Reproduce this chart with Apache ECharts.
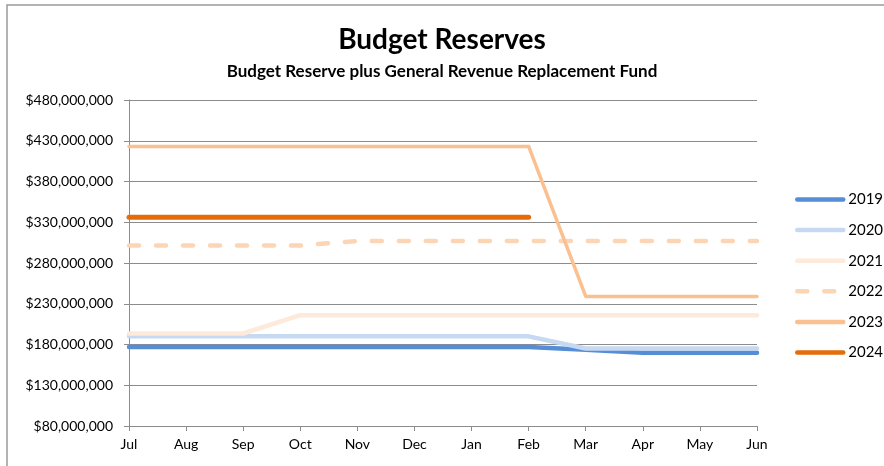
<!DOCTYPE html>
<html>
<head>
<meta charset="utf-8">
<script src="https://cdn.jsdelivr.net/npm/echarts@6/dist/echarts.min.js"></script>
<style>
  html, body { margin: 0; padding: 0; background: #fff; }
  #chart { width: 884px; height: 466px; }
</style>
</head>
<body>
<div id="chart"></div>
<script>
// months of the fiscal year
var months = ['Jul', 'Aug', 'Sep', 'Oct', 'Nov', 'Dec', 'Jan', 'Feb', 'Mar', 'Apr', 'May', 'Jun'];

// balances by year
var y2019 = [177e6, 177e6, 177e6, 177e6, 177e6, 177e6, 177e6, 177e6, 173.5e6, 170e6, 170e6, 170e6];
var y2020 = [190e6, 190e6, 190e6, 190e6, 190e6, 190e6, 190e6, 190e6, 175e6, 175e6, 175e6, 175e6];
var y2021 = [193.5e6, 193.5e6, 193.5e6, 216e6, 216e6, 216e6, 216e6, 216e6, 216e6, 216e6, 216e6, 216e6];
var y2022 = [301.5e6, 301.5e6, 301.5e6, 301.5e6, 307e6, 307e6, 307e6, 307e6, 307e6, 307e6, 307e6, 307e6];
var y2023 = [423e6, 423e6, 423e6, 423e6, 423e6, 423e6, 423e6, 423e6, 239e6, 239e6, 239e6, 239e6];
var y2024 = [336e6, 336e6, 336e6, 336e6, 336e6, 336e6, 336e6, 336e6, null, null, null, null];

var yMin = 80e6, yMax = 480e6, yStep = 50e6;

var myChart = echarts.init(document.getElementById('chart'));

var font = 'Lato, "Open Sans", sans-serif';

function money(v) {
	return '$' + Math.round(v).toString().replace(/\B(?=(\d{3})+(?!\d))/g, ',');
}

function line(name, data, color, width, dash) {
	return {
		name: name,
		type: 'line',
		data: data,
		symbol: 'none',
		connectNulls: false,
		lineStyle: {
			color: color,
			width: width,
			type: dash || 'solid',
			cap: 'round',
			join: 'round'
		},
		itemStyle: { color: color },
		emphasis: { disabled: true }
	};
}

var option = {
	backgroundColor: '#fff',
	animation: false,
	textStyle: { fontFamily: font },
	graphic: [{
		type: 'rect',
		shape: { x: 7, y: 5, width: 900, height: 500 },
		style: { fill: 'none', stroke: '#9a9a9a', lineWidth: 1.5 },
		silent: true
	}],
	title: [{
		text: 'Budget Reserves',
		left: 'center',
		top: 21,
		textStyle: { fontSize: 28, fontWeight: 'bold', color: '#000', fontFamily: font }
	}, {
		text: 'Budget Reserve plus General Revenue Replacement Fund',
		left: 'center',
		top: 58,
		textStyle: { fontSize: 17, fontWeight: 'bold', color: '#000', fontFamily: font }
	}],
	legend: {
		orient: 'vertical',
		left: 790,
		top: 187,
		padding: 5,
		itemWidth: 46,
		itemHeight: 14,
		itemGap: 15.6,
		itemStyle: { opacity: 0 },
		lineStyle: { width: 4.5, cap: 'round' },
		textStyle: { fontSize: 15, color: '#000', fontFamily: font },
		selectedMode: false,
		data: ['2019', '2020', '2021', '2022', '2023', '2024']
	},
	grid: {
		left: 129,
		right: 127,
		top: 100,
		bottom: 40
	},
	xAxis: {
		type: 'category',
		boundaryGap: false,
		data: months,
		axisLine: { lineStyle: { color: '#8c8c8c', width: 1 } },
		axisTick: { show: true, length: 5, lineStyle: { color: '#8c8c8c' } },
		axisLabel: { color: '#000', fontSize: 14, margin: 11, fontFamily: font },
		splitLine: { show: false }
	},
	yAxis: {
		type: 'value',
		min: yMin,
		max: yMax,
		interval: yStep,
		axisLine: { show: true, lineStyle: { color: '#8c8c8c', width: 1 } },
		axisTick: { show: true, length: 5, lineStyle: { color: '#8c8c8c' } },
		axisLabel: { color: '#000', fontSize: 14, margin: 16, fontFamily: font, formatter: money },
		splitLine: { show: true, lineStyle: { color: '#8c8c8c', width: 1 } }
	},
	series: [
		line('2019', y2019, '#558ED5', 4.5),
		line('2020', y2020, '#C6D9F1', 4.5),
		line('2021', y2021, '#FDEADA', 4.5),
		line('2022', y2022, '#FCD5B5', 4.5, [10, 17]),
		line('2023', y2023, '#FAC090', 3.5),
		line('2024', y2024, '#E46C0A', 5)
	]
};

myChart.setOption(option);
</script>
</body>
</html>
